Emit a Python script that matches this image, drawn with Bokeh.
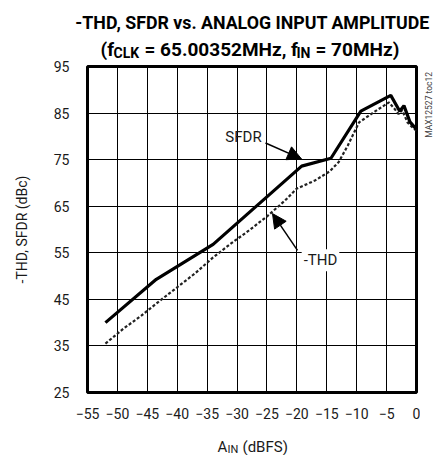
from bokeh.plotting import figure
from bokeh.models import Label, Arrow, NormalHead, FixedTicker, Range1d
from bokeh.layouts import column, row
from bokeh.embed import file_html
from bokeh.resources import INLINE

# ---- data ----
sfdr_x = [-52, -43.5, -34, -19.2, -14.3, -9.3, -4.3, -2.8, -2.1, -1.1, 0]
sfdr_y = [40, 49.3, 56.8, 73.6, 75.3, 85.4, 88.8, 85.4, 86.6, 83.1, 81.5]

thd_x = [-52, -49, -46, -43, -40, -37, -34, -31, -28, -25, -22, -20, -17,
         -14.5, -13, -11.5, -9.6, -7, -4.6, -3.6, -3.0, -2.4, -1.5, -0.6, 0]
thd_y = [35.5, 38.7, 41.5, 44.6, 47.6, 50.6, 54.0, 57.0, 59.8, 62.8, 66.2, 68.8, 70.5,
         72.5, 74.5, 78.0, 83.0, 85.3, 87.3, 85.8, 84.8, 85.6, 83.0, 81.8, 81.2]

x_ticks = [-55, -50, -45, -40, -35, -30, -25, -20, -15, -10, -5, 0]
y_ticks = [25, 35, 45, 55, 65, 75, 85, 95]

title_1 = "-THD, SFDR vs. ANALOG INPUT AMPLITUDE"
title_2 = [("(f", False), ("CLK", True), ("= 65.00352MHz, f", False), ("IN", True), ("= 70MHz)", False)]
y_label = "-THD, SFDR (dBc)"
code_label = "MAX12527 toc12"

FONT = "Roboto"
TXT = "#1a1a1a"

# page geometry (pixels)
TOTAL_W = 440
TITLE_H = 60
MAIN_W = 420
FL, FR, FT, FB = 87, 416, 66, 394
MAIN_BOTTOM = 27
MAIN_H = FB + MAIN_BOTTOM - TITLE_H
XLAB_Y0 = TITLE_H + MAIN_H
XLAB_H = 455 - XLAB_Y0
X0, X1, Y0, Y1 = -55, 0, 25, 95


def dx(px):
    return X0 + (px - FL) * (X1 - X0) / (FR - FL)


def dy(py):
    return Y1 - (py - FT) * (Y1 - Y0) / (FB - FT)


def blank(w, h, x0, y0):
    f = figure(width=w, height=h, output_backend="svg", toolbar_location=None,
               x_range=Range1d(x0, x0 + w), y_range=Range1d(y0 + h, y0),
               x_axis_location=None, y_axis_location=None, min_border=0,
               min_border_left=0, min_border_right=0, min_border_top=0,
               min_border_bottom=0)
    f.grid.visible = False
    f.outline_line_color = None
    f.background_fill_color = "white"
    f.border_fill_color = "white"
    return f


# ---- title figure ----
t = blank(TOTAL_W, TITLE_H, 0, 0)
t.add_layout(Label(x=252, y=22, text=title_1, text_font=FONT, text_font_size="17.8px",
                   text_font_style="bold", text_align="center", text_baseline="alphabetic",
                   text_color="black"))
seg_x = [100, 113, 144, 296, 315]
for (s, sub), xp in zip(title_2, seg_x):
    t.add_layout(Label(x=xp, y=52 if sub else 49, text=s, text_font=FONT,
                       text_font_size="14px" if sub else "19px", text_font_style="bold",
                       text_align="left", text_baseline="alphabetic", text_color="black"))

# ---- main figure ----
p = figure(width=MAIN_W, height=MAIN_H, output_backend="svg", toolbar_location=None,
           x_range=Range1d(X0, X1), y_range=Range1d(Y0, Y1),
           min_border_left=FL, min_border_right=MAIN_W - FR,
           min_border_top=FT - TITLE_H, min_border_bottom=MAIN_BOTTOM)
p.background_fill_color = "white"
p.border_fill_color = "white"
p.outline_line_color = "black"
p.outline_line_width = 3

for ax in (p.xaxis, p.yaxis):
    ax.axis_line_color = None
    ax.major_tick_in = 0
    ax.major_tick_out = 0
    ax.minor_tick_line_color = None
    ax.major_label_text_font = FONT
    ax.major_label_text_font_size = "14px"
    ax.major_label_text_color = TXT
p.xaxis.ticker = FixedTicker(ticks=x_ticks)
p.yaxis.ticker = FixedTicker(ticks=y_ticks)
p.xaxis.major_label_standoff = 15
p.yaxis.major_label_standoff = 18
p.yaxis.axis_label = y_label
p.yaxis.axis_label_text_font = FONT
p.yaxis.axis_label_text_font_size = "14px"
p.yaxis.axis_label_text_font_style = "normal"
p.yaxis.axis_label_text_color = TXT
p.yaxis.axis_label_standoff = 21

p.xgrid.ticker = FixedTicker(ticks=x_ticks)
p.ygrid.ticker = FixedTicker(ticks=y_ticks)
p.grid.grid_line_color = "black"
p.grid.grid_line_width = 1
p.grid.grid_line_alpha = 1

p.line(thd_x, thd_y, line_color="#222222", line_width=2.2, line_dash="3 2")
p.line(sfdr_x, sfdr_y, line_color="black", line_width=3.2)

p.add_layout(Label(x=dx(243), y=dy(137), text="SFDR", text_font=FONT,
                   text_font_size="15px", text_align="center", text_baseline="middle",
                   text_color=TXT))
p.add_layout(Arrow(x_start=dx(265), y_start=dy(143), x_end=dx(301), y_end=dy(159),
                   line_width=1.5, line_color="black",
                   end=NormalHead(size=14, fill_color="black", line_color="black")))
p.add_layout(Label(x=dx(320), y=dy(261), text="-THD", text_font=FONT,
                   text_font_size="15px", text_align="center", text_baseline="middle",
                   text_color=TXT, background_fill_color="white", padding=2))
p.add_layout(Arrow(x_start=dx(297), y_start=dy(251), x_end=dx(272), y_end=dy(214),
                   line_width=1.5, line_color="black",
                   end=NormalHead(size=14, fill_color="black", line_color="black")))

# ---- right strip with the figure code ----
r = blank(TOTAL_W - MAIN_W, MAIN_H, MAIN_W, TITLE_H)
r.add_layout(Label(x=428, y=66, text=code_label, text_font=FONT, text_font_size="8.5px",
                   angle=1.5708, text_align="right", text_baseline="middle",
                   text_color="#444444"))

# ---- x-axis label strip ----
b = blank(TOTAL_W, XLAB_H, 0, XLAB_Y0)
b.add_layout(Label(x=217, y=446, text="A", text_font=FONT, text_font_size="15px",
                   text_align="left", text_baseline="alphabetic", text_color=TXT))
b.add_layout(Label(x=227, y=449, text="IN", text_font=FONT, text_font_size="11px",
                   text_align="left", text_baseline="alphabetic", text_color=TXT))
b.add_layout(Label(x=242, y=446, text="(dBFS)", text_font=FONT, text_font_size="15px",
                   text_align="left", text_baseline="alphabetic", text_color=TXT))

layout = column(t, row(p, r), b)
open("out.html", "w").write(file_html(layout, INLINE))
